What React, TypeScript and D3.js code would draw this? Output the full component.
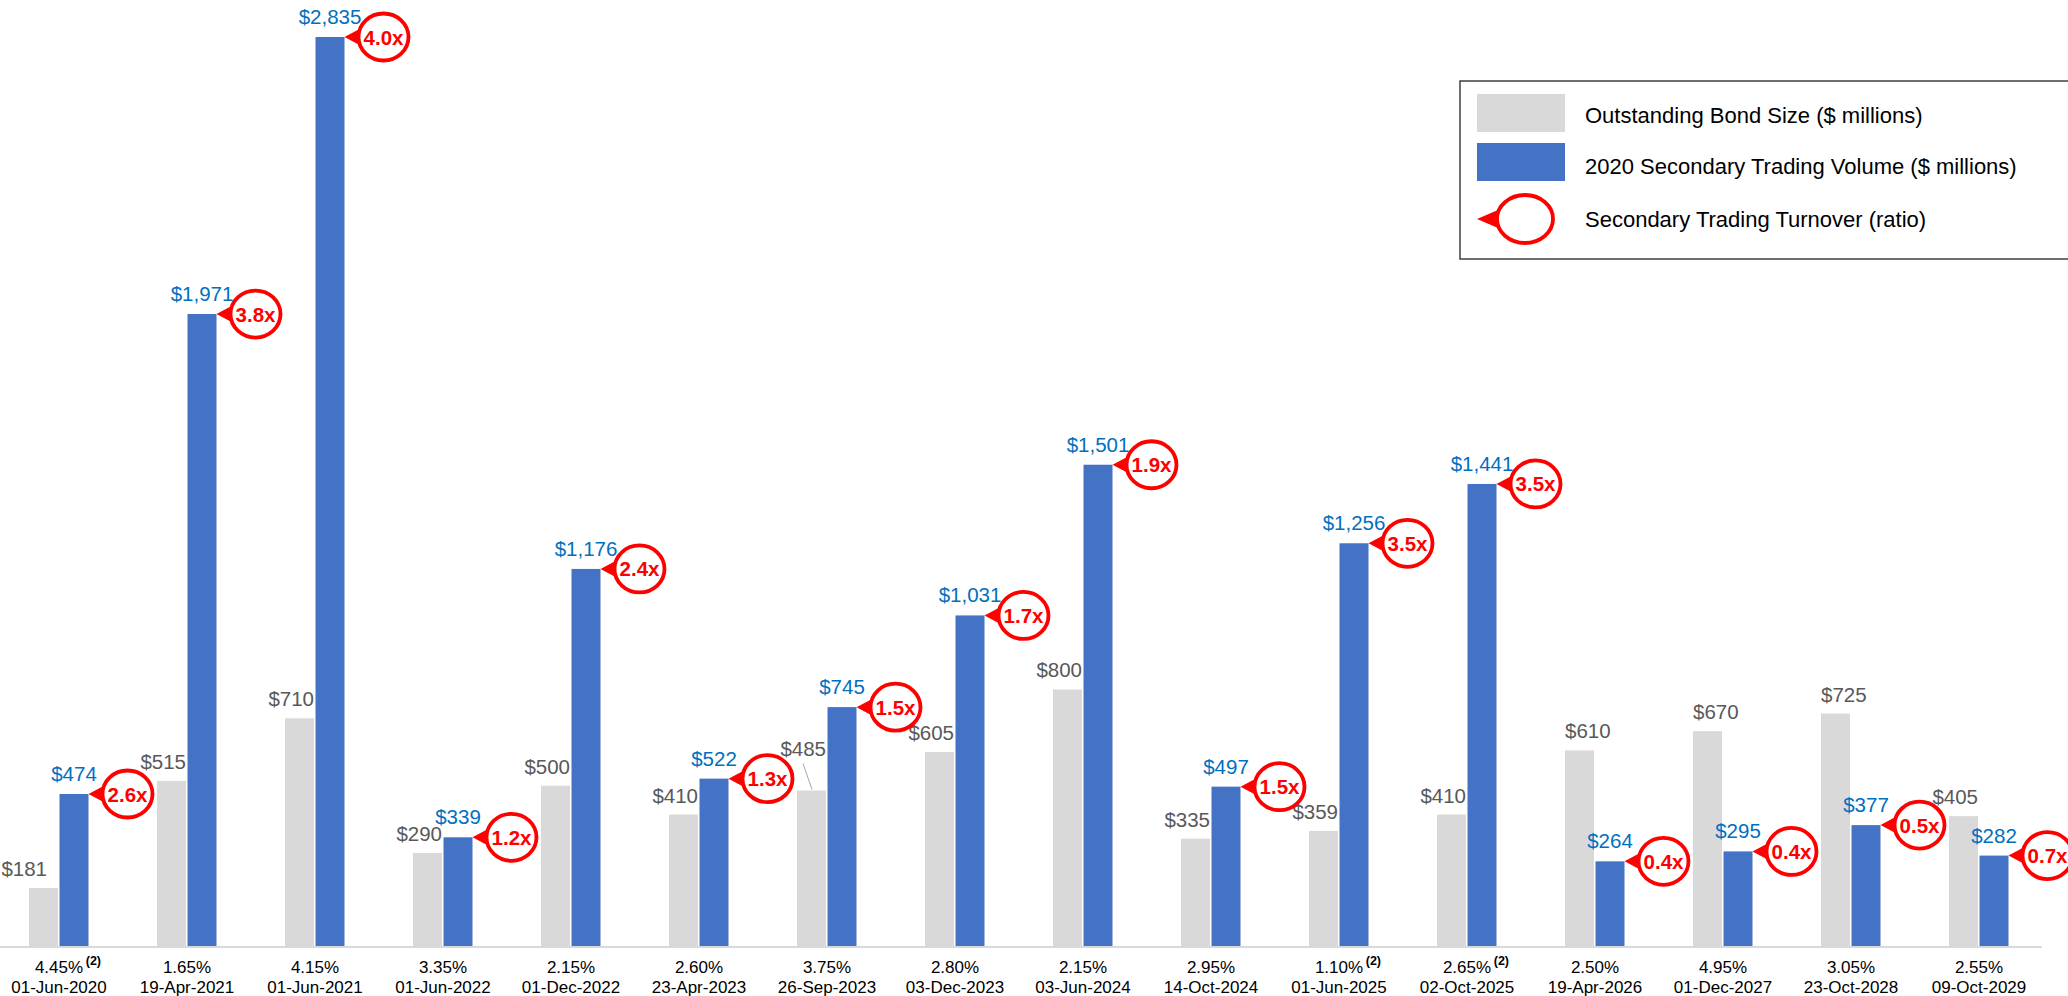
import React from "react";
import * as d3 from "d3";

// ---------- data ----------
const maturities = [
  "01-Jun-2020", "19-Apr-2021", "01-Jun-2021", "01-Jun-2022", "01-Dec-2022", "23-Apr-2023",
  "26-Sep-2023", "03-Dec-2023", "03-Jun-2024", "14-Oct-2024", "01-Jun-2025", "02-Oct-2025",
  "19-Apr-2026", "01-Dec-2027", "23-Oct-2028", "09-Oct-2029",
];
const coupons = [
  "4.45%", "1.65%", "4.15%", "3.35%", "2.15%", "2.60%", "3.75%", "2.80%",
  "2.15%", "2.95%", "1.10%", "2.65%", "2.50%", "4.95%", "3.05%", "2.55%",
];
const footnoted = [true, false, false, false, false, false, false, false, false, false, true, true, false, false, false, false];
const outstanding = [181, 515, 710, 290, 500, 410, 485, 605, 800, 335, 359, 410, 610, 670, 725, 405];
const volume = [474, 1971, 2835, 339, 1176, 522, 745, 1031, 1501, 497, 1256, 1441, 264, 295, 377, 282];
const turnover = [2.6, 3.8, 4.0, 1.2, 2.4, 1.3, 1.5, 1.7, 1.9, 1.5, 3.5, 3.5, 0.4, 0.4, 0.5, 0.7];
const seriesKeys = ["outstanding", "volume"];
const legendLabels = [
  "Outstanding Bond Size ($ millions)",
  "2020 Secondary Trading Volume ($ millions)",
  "Secondary Trading Turnover (ratio)",
];

// ---------- style ----------
const W = 2068;
const H = 996;
const FONT = "'Liberation Sans', Arial, Helvetica, sans-serif";
const GRAY = "#D9D9D9";
const BLUE = "#4472C4";
const BLUE_TXT = "#0070C0";
const GRAY_TXT = "#595959";
const RED = "#FF0000";

const fmt = d3.format(",");

function RatioMarker({ x, y, label, rx = 25, ry = 23.5, off = 39, tri = 8, big = false }: any) {
  const cx = x + off;
  const baseX = cx - rx;
  return (
    <g>
      <path d={`M${x},${y} L${baseX + 1},${y - tri} L${baseX + 1},${y + tri} Z`} fill={RED} />
      <ellipse cx={cx} cy={y} rx={rx} ry={ry} fill="#fff" stroke={RED} strokeWidth={3.8} />
      {label ? (
        <text x={cx} y={y + 7.5} textAnchor="middle" fontFamily={FONT} fontWeight="bold" fontSize={20.5} fill={RED}>
          {label}
        </text>
      ) : null}
    </g>
  );
}

export default function App() {
  const baseline = 946;
  const x0 = d3.scaleBand<string>().domain(maturities).range([-5, 2043]).paddingInner(0).paddingOuter(0);
  const x1 = d3.scaleBand<string>().domain(seriesKeys).range([34, 94]).paddingInner(1 / 30);
  const y = d3.scaleLinear().domain([0, 2835]).range([baseline, 37]);
  const bw = x1.bandwidth() - 0.5;

  return (
    <div style={{ position: "fixed", left: 0, top: 0, width: W, height: H, background: "#fff" }}>
      <svg width={W} height={H} viewBox={`0 0 ${W} ${H}`} style={{ display: "block" }}>
        <rect x={0} y={0} width={W} height={H} fill="#fff" />

        {/* bars */}
        {maturities.map((m, i) => {
          const gx = (x0(m) as number) + (x1("outstanding") as number);
          const bx = (x0(m) as number) + (x1("volume") as number);
          const gy = y(outstanding[i]);
          const by = y(volume[i]);
          return (
            <g key={m}>
              <rect x={gx} y={gy} width={bw} height={baseline - gy} fill={GRAY} />
              <rect x={bx} y={by} width={bw} height={baseline - by} fill={BLUE} />
            </g>
          );
        })}

        {/* axis line */}
        <line x1={0} x2={2042} y1={baseline + 1} y2={baseline + 1} stroke={GRAY} strokeWidth={2} />

        {/* axis labels */}
        {maturities.map((m, i) => {
          const cx = (x0(m) as number) + x0.bandwidth() / 2;
          const cw = coupons[i].length * 9.5;
          return (
            <g key={"lab" + m} fontFamily={FONT} fill="#000">
              <text x={cx} y={973} textAnchor="middle" fontSize={17}>{coupons[i]}</text>
              {footnoted[i] ? (
                <text x={cx + cw / 2 + 3} y={965} fontSize={12.5} fontWeight="bold">(2)</text>
              ) : null}
              <text x={cx} y={993} textAnchor="middle" fontSize={17}>{m}</text>
            </g>
          );
        })}

        {/* gray value labels */}
        {maturities.map((m, i) => {
          const gx = (x0(m) as number) + (x1("outstanding") as number);
          const gy = y(outstanding[i]);
          // labels of groups 13-15 sit from the bar's left edge, the rest end at its right edge
          const startAligned = i >= 12 && i <= 14;
          const lifted = m === "26-Sep-2023";
          const shiftLeft = i === 0 ? 11 : 0;
          const ty = lifted ? gy - 34 : gy - 12;
          return (
            <g key={"gl" + m}>
              {lifted ? (
                <line x1={gx + 6} y1={ty + 7} x2={gx + 15} y2={gy - 1} stroke="#A6A6A6" strokeWidth={1} />
              ) : null}
              <text
                x={(startAligned ? gx : gx + bw) - shiftLeft}
                y={ty}
                textAnchor={startAligned ? "start" : "end"}
                fontFamily={FONT}
                fontSize={20.5}
                fill={GRAY_TXT}
              >
                {"$" + fmt(outstanding[i])}
              </text>
            </g>
          );
        })}

        {/* blue value labels */}
        {maturities.map((m, i) => {
          const bx = (x0(m) as number) + (x1("volume") as number);
          const by = y(volume[i]);
          return (
            <text key={"bl" + m} x={bx + bw / 2} y={by - 13} textAnchor="middle" fontFamily={FONT} fontSize={20.5} fill={BLUE_TXT}>
              {"$" + fmt(volume[i])}
            </text>
          );
        })}

        {/* ratio markers */}
        {maturities.map((m, i) => {
          const bx = (x0(m) as number) + (x1("volume") as number);
          const by = y(volume[i]);
          return <RatioMarker key={"rm" + m} x={bx + bw} y={by} label={turnover[i].toFixed(1) + "x"} />;
        })}

        {/* legend */}
        <g fontFamily={FONT} fontSize={22} fill="#000">
          <rect x={1460} y={81} width={612} height={178} fill="#fff" stroke="#404040" strokeWidth={1.5} />
          <rect x={1477} y={94} width={88} height={38} fill={GRAY} />
          <rect x={1477} y={143} width={88} height={38} fill={BLUE} />
          <RatioMarker x={1477} y={219} rx={28} ry={24} off={48} tri={9} />
          <text x={1585} y={123}>{legendLabels[0]}</text>
          <text x={1585} y={174}>{legendLabels[1]}</text>
          <text x={1585} y={227}>{legendLabels[2]}</text>
        </g>
      </svg>
    </div>
  );
}
